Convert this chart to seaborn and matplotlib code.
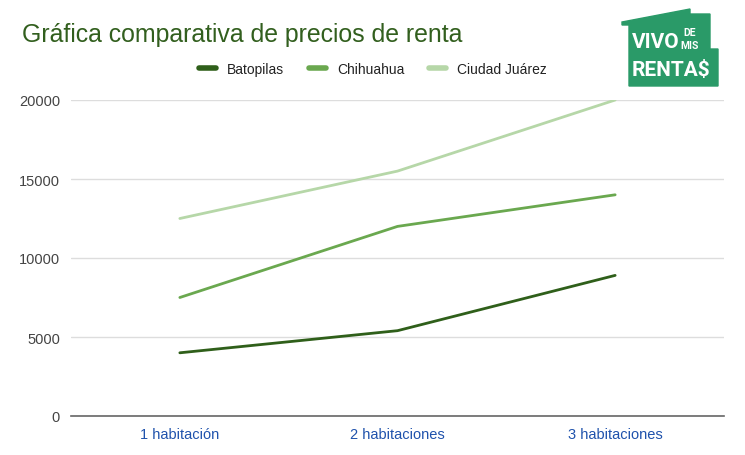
import numpy as np
import pandas as pd
import seaborn as sns
import matplotlib.pyplot as plt
from matplotlib.patches import Polygon

# Datos del gráfico
categorias = ['1 habitación', '2 habitaciones', '3 habitaciones']
batopilas = [4000, 5400, 8900]
chihuahua = [7500, 12000, 14000]
juarez = [12500, 15500, 20000]
ciudades = ['Batopilas', 'Chihuahua', 'Ciudad Juárez']
colores = {'Batopilas': '#2f5f1a', 'Chihuahua': '#6aa84f', 'Ciudad Juárez': '#b6d7a8'}

df = pd.DataFrame({
    'cuartos': categorias * 3,
    'precio': batopilas + chihuahua + juarez,
    'ciudad': [c for c in ciudades for _ in categorias],
})

sns.set_style('white')
plt.rcParams['font.family'] = ['Liberation Sans', 'DejaVu Sans']

W, H = 745, 456
fig = plt.figure(figsize=(W / 100, H / 100), dpi=100)
ax = fig.add_axes([71 / W, 1 - 417 / H, (724 - 71) / W, (417 - 101) / H])

sns.lineplot(data=df, x='cuartos', y='precio', hue='ciudad', palette=colores,
             linewidth=2, ax=ax, legend=False, sort=False)

ax.set_xlim(-0.5, 2.5)
ax.set_ylim(0, 20000)
ax.set_yticks([0, 5000, 10000, 15000, 20000])
ax.yaxis.grid(True, color='#dddddd', linewidth=1)
ax.set_axisbelow(True)
for s in ['top', 'right', 'left']:
    ax.spines[s].set_visible(False)
ax.spines['bottom'].set_color('#666666')
ax.spines['bottom'].set_linewidth(1.2)
ax.tick_params(axis='both', length=0, pad=8)
ax.tick_params(axis='y', labelcolor='#444444', labelsize=10.5)
ax.tick_params(axis='x', labelcolor='#1f52ac', labelsize=10.5)
ax.set_xlabel('')
ax.set_ylabel('')

# Titulo
fig.text(22 / W, 1 - 35 / H, 'Gráfica comparativa de precios de renta',
         fontsize=17.9, color='#325f1e', va='center', ha='left')

# Leyenda
handles = [plt.Line2D([], [], color=colores[c], linewidth=4) for c in ciudades]
fig.legend(handles, ciudades, loc='center', bbox_to_anchor=(373 / W, 1 - 70 / H),
           ncol=3, frameon=False, fontsize=10, handlelength=1.2, handletextpad=0.8,
           columnspacing=1.8, labelcolor='#222222')

# Logo
def px(x, y):
    return (x / W, 1 - y / H)

casa = [(622, 23), (690, 10), (690, 15), (710, 15), (710, 50), (718, 50),
        (718, 87), (629, 87), (629, 26), (622, 26)]
fig.patches.append(Polygon([px(*p) for p in casa], closed=True, color='#2a9a68',
                           transform=fig.transFigure, figure=fig))
logo_font = ['Roboto', 'DejaVu Sans']
fig.text(*px(656, 43), 'VIVO', color='white', fontsize=15, fontweight='bold',
         ha='center', va='center', family=logo_font)
fig.text(*px(690, 33), 'DE', color='white', fontsize=7.5, fontweight='bold',
         ha='center', va='center', family=logo_font)
fig.text(*px(690, 46), 'MIS', color='white', fontsize=7.5, fontweight='bold',
         ha='center', va='center', family=logo_font)
fig.text(*px(671, 71), 'RENTA$', color='white', fontsize=15, fontweight='bold',
         ha='center', va='center', family=logo_font)

fig.savefig('out.png', dpi=100)
